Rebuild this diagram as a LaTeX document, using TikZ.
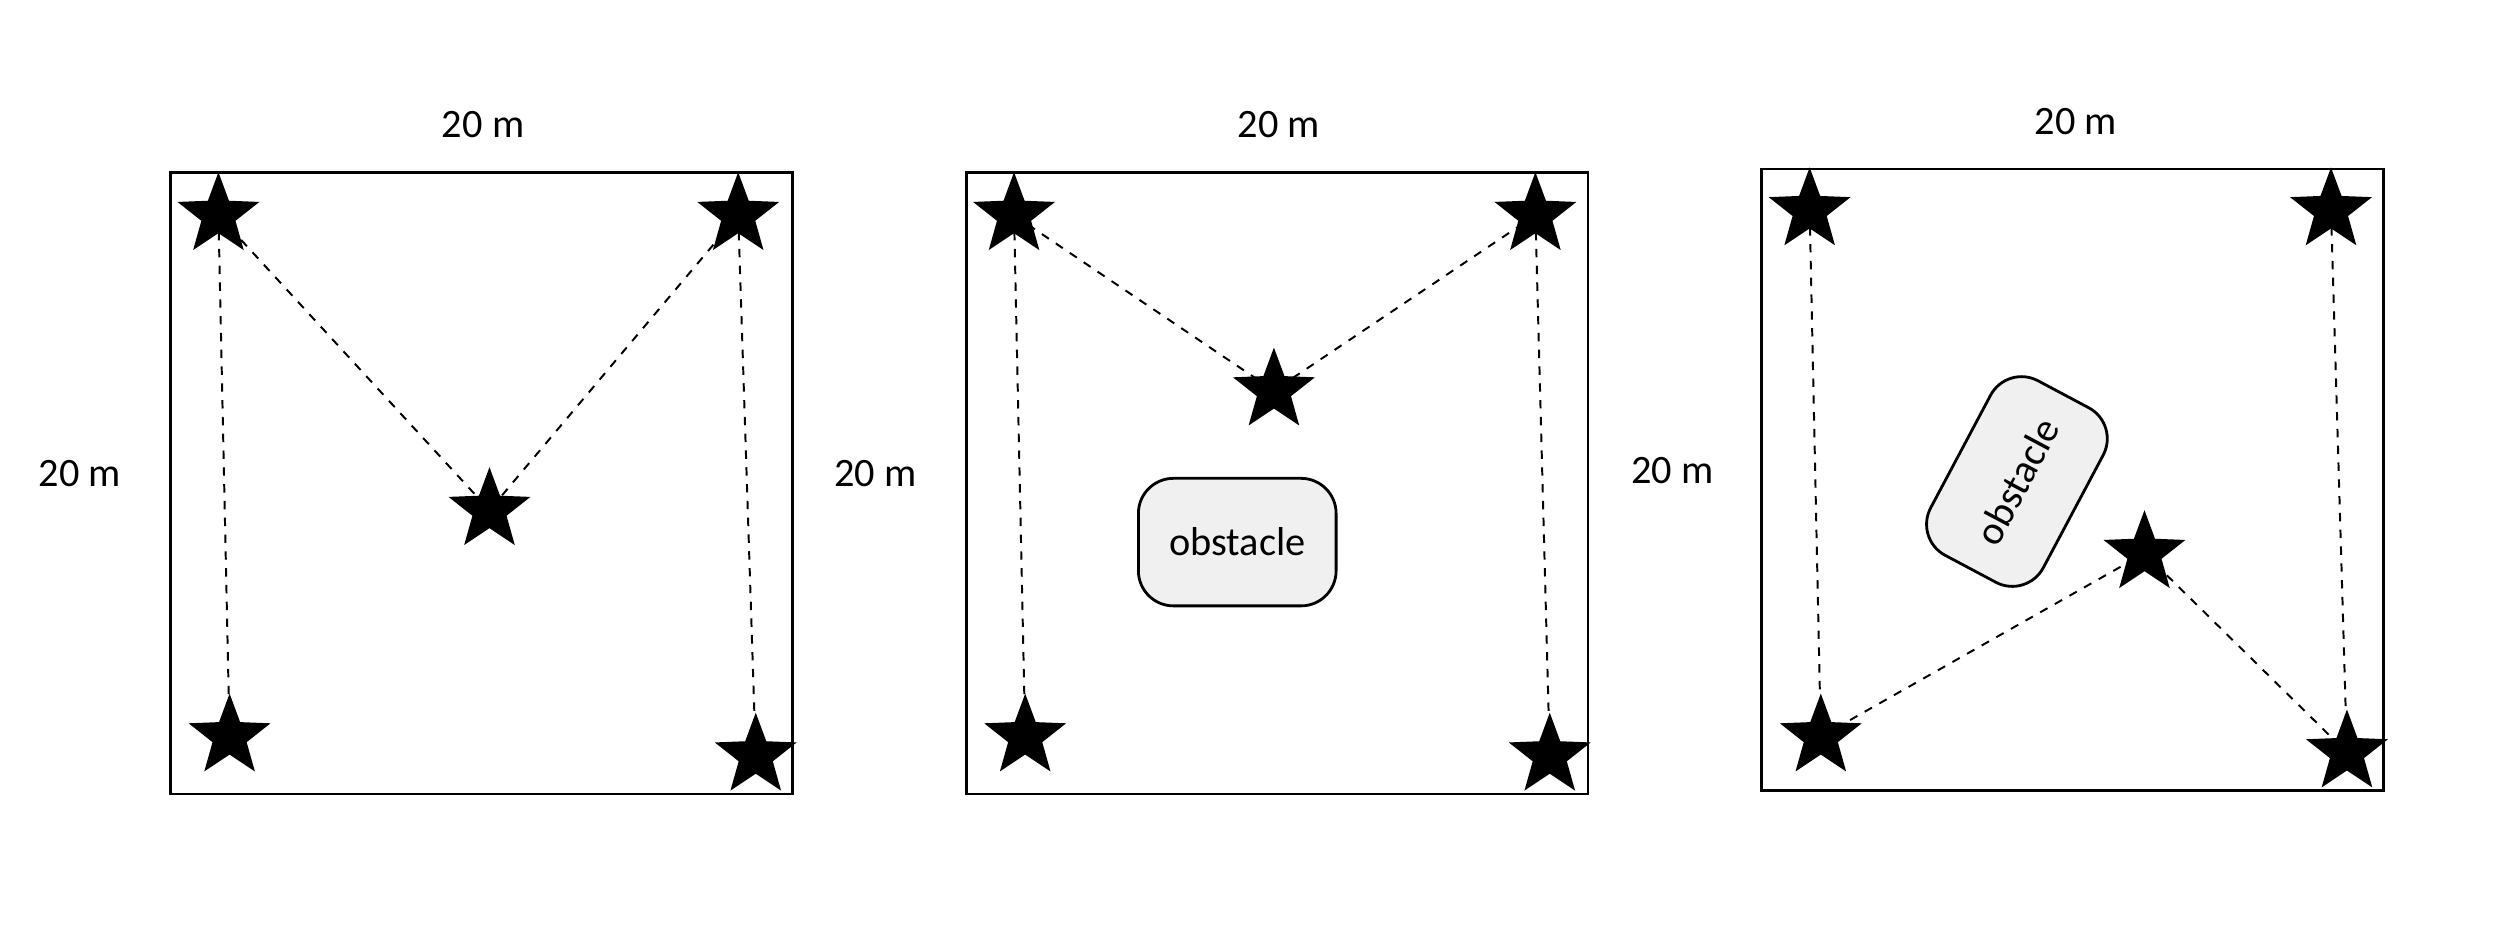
\documentclass[tikz,border=0pt]{standalone}
\usepackage{fontspec}
\setmainfont{Carlito}
\usetikzlibrary{shapes.geometric}
\tikzset{
  anchorstar/.style={star, star points=5, star point ratio=2.4, fill=black,
    minimum size=54*0.02cm, inner sep=0pt},
  field/.style={draw=black, line width=1pt},
  link/.style={dashed, line width=0.7pt},
  obst/.style={draw=black, line width=1pt, fill=gray!12, rounded corners=22*0.02cm,
    minimum width=124*0.02cm, minimum height=80*0.02cm, font=\Large},
  dim/.style={font=\Large}
}
\begin{document}
\begin{tikzpicture}[x=0.02cm, y=-0.02cm]
\useasboundingbox (0,0) rectangle (1568,589);
% panel 1
\draw[field] (107,108) rectangle (497,498);
\node[dim] (w1) at (303,78) {20 m};
\node[dim] (h1) at (50,297) {20 m};
\node[anchorstar] (a1) at (137,135) {};
\node[anchorstar] (b1) at (463,135) {};
\node[anchorstar] (c1) at (307,320) {};
\node[anchorstar] (d1) at (144,462) {};
\node[anchorstar] (e1) at (474,474) {};
\draw[link] (a1.center) -- (c1.center) -- (b1.center);
\draw[link] (a1.center) -- (d1.center);
\draw[link] (b1.center) -- (e1.center);
% panel 2
\draw[field] (606,108) rectangle (996,498);
\node[dim] (w2) at (802,78) {20 m};
\node[dim] (h2) at (549,297) {20 m};
\node[obst] (o2) at (776,340) {obstacle};
\node[anchorstar] (a2) at (636,135) {};
\node[anchorstar] (b2) at (963,135) {};
\node[anchorstar] (c2) at (799,245) {};
\node[anchorstar] (d2) at (643,462) {};
\node[anchorstar] (e2) at (972,474) {};
\draw[link] (a2.center) -- (c2.center) -- (b2.center);
\draw[link] (a2.center) -- (d2.center);
\draw[link] (b2.center) -- (e2.center);
% panel 3
\draw[field] (1105,106) rectangle (1495,496);
\node[dim] (w3) at (1302,76) {20 m};
\node[dim] (h3) at (1049,295) {20 m};
\node[obst, rotate=62] (o3) at (1265,302) {obstacle};
\node[anchorstar] (a3) at (1135,132) {};
\node[anchorstar] (b3) at (1462,132) {};
\node[anchorstar] (c3) at (1345,347) {};
\node[anchorstar] (d3) at (1142,462) {};
\node[anchorstar] (e3) at (1472,472) {};
\draw[link] (d3.center) -- (c3.center) -- (e3.center);
\draw[link] (a3.center) -- (d3.center);
\draw[link] (b3.center) -- (e3.center);
\end{tikzpicture}
\end{document}
